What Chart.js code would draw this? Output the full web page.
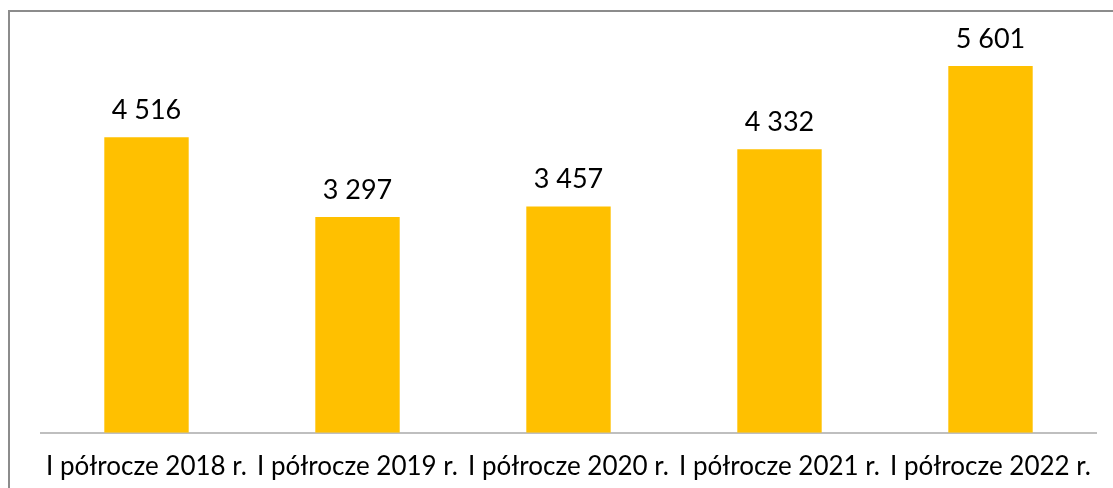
<!DOCTYPE html>
<html lang="pl">
<head>
    <meta charset="UTF-8">
    <title>I półrocze 2018-2022</title>
    <style>
    body {
        margin: 0;
        overflow: hidden;
        background-color: #fff;
        width: 1113px;
        height: 488px;
        position: relative;
    }
    /* ramka wykresu, prawa i dolna krawędź poza kadrem */
    .frame {
        position: absolute;
        left: 8px;
        top: 10px;
        width: 1200px;
        height: 600px;
        border: 2px solid #8c8c8c;
        box-sizing: border-box;
    }
    .chart-box {
        position: absolute;
        left: 0;
        top: 0;
        width: 1113px;
        height: 488px;
    }
    </style>
</head>
<body>
    <div class="frame"></div>
    <div class="chart-box"><canvas id="chart"></canvas></div>

    <script src="https://cdn.jsdelivr.net/npm/chart.js"></script>
    <script>
        var categories = ['I półrocze 2018 r.', 'I półrocze 2019 r.', 'I półrocze 2020 r.', 'I półrocze 2021 r.', 'I półrocze 2022 r.'];
        var values = [4516, 3297, 3457, 4332, 5601];
        var barColor = '#FFC000';
        var fontName = 'Lato, "Noto Sans", sans-serif';

        // liczby ze spacją jako separatorem tysięcy
        function formatNumber(v) {
            return String(v).replace(/\B(?=(\d{3})+(?!\d))/g, ' ');
        }

        // etykiety wartości nad słupkami
        var valueLabels = {
            id: 'valueLabels',
            afterDatasetsDraw: function(chart) {
                var ctx = chart.ctx;
                var meta = chart.getDatasetMeta(0);
                ctx.save();
                ctx.font = '27px ' + fontName;
                ctx.fillStyle = '#000';
                ctx.textAlign = 'center';
                ctx.textBaseline = 'alphabetic';
                meta.data.forEach(function(bar, i) {
                    ctx.fillText(formatNumber(chart.data.datasets[0].data[i]), bar.x, bar.y - 18);
                });
                ctx.restore();
            }
        };

        new Chart(document.getElementById('chart'), {
            type: 'bar',
            data: {
                labels: categories,
                datasets: [{
                    data: values,
                    backgroundColor: barColor,
                    barPercentage: 0.4,
                    categoryPercentage: 1
                }]
            },
            options: {
                responsive: true,
                maintainAspectRatio: false,
                animation: false,
                layout: {
                    padding: { left: 41, right: 17, top: 40, bottom: -12 }
                },
                plugins: {
                    legend: { display: false },
                    tooltip: { enabled: false }
                },
                scales: {
                    x: {
                        grid: { display: false, drawTicks: false },
                        border: { display: true, color: '#bfbfbf', width: 2 },
                        ticks: {
                            color: '#000',
                            font: { family: fontName, size: 26 },
                            padding: 18,
                            maxRotation: 0,
                            minRotation: 0,
                            autoSkip: false
                        }
                    },
                    y: {
                        display: false,
                        min: 0,
                        max: 6000
                    }
                }
            },
            plugins: [valueLabels]
        });
    </script>
</body>
</html>
